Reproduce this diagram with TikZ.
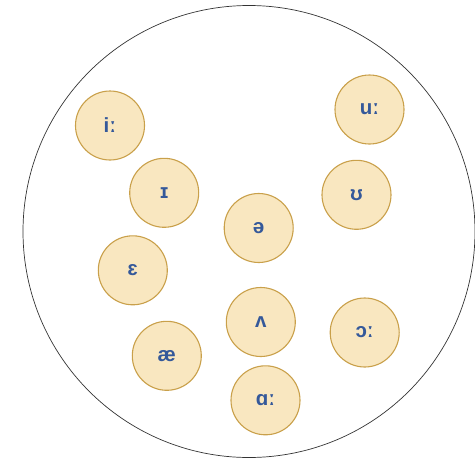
\documentclass[tikz,border=0pt]{standalone}
\usepackage{fontspec}
\setmainfont{Liberation Sans}
\definecolor{vfill}{HTML}{F9E7C0}
\definecolor{vdraw}{HTML}{C9A04A}
\definecolor{vtext}{HTML}{35599A}
\begin{document}
\begin{tikzpicture}[x=1pt,y=-1pt,
  vowel/.style={circle,draw=vdraw,fill=vfill,line width=1.1pt,minimum size=69pt,inner sep=0pt,
    text=vtext,font=\bfseries\fontsize{20.5}{20.5}\selectfont}]
\useasboundingbox (0,0) rectangle (475,461);
\node[circle,draw=black!80,line width=0.7pt,minimum size=452pt,inner sep=0pt] (outer) at (249,231.5) {};
\node[vowel] (ii) at (110,125.5) {iː};
\node[vowel] (ih) at (164.2,192.8) {ɪ};
\node[vowel] (schwa) at (258.7,228) {ə};
\node[vowel] (uu) at (369.5,109.5) {uː};
\node[vowel] (uh) at (356.5,194.8) {ʊ};
\node[vowel] (eh) at (132.8,270.3) {ɛ};
\node[vowel] (wedge) at (260.8,322) {ʌ};
\node[vowel] (oo) at (364.7,332.5) {ɔː};
\node[vowel] (ae) at (166.8,355.8) {æ};
\node[vowel] (aa) at (265.5,400.3) {ɑː};
\end{tikzpicture}
\end{document}
